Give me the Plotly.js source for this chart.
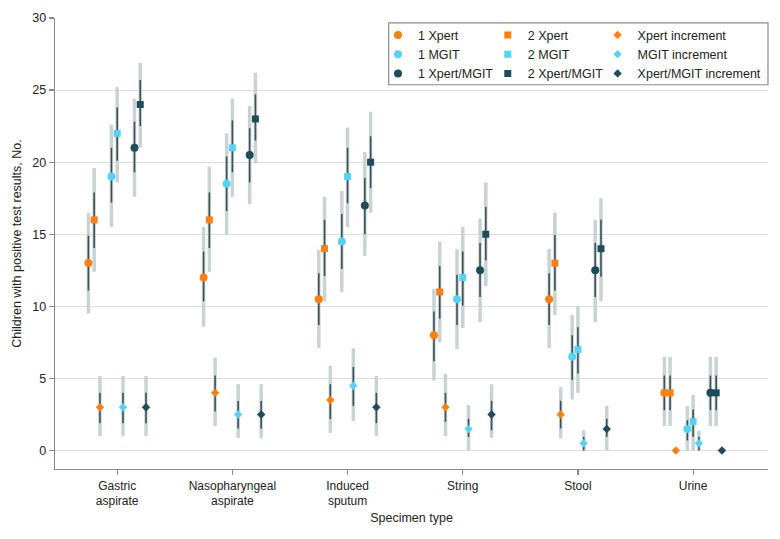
<!DOCTYPE html>
<html>
<head>
<meta charset="utf-8">
<script src="https://cdn.plot.ly/plotly-3.0.1.min.js"></script>
<style>html,body{margin:0;padding:0;background:#fff;}#chart{width:780px;height:539px;}</style>
</head>
<body>
<div id="chart"></div>
<script>
// Categories (x) and tick labels
const categories = ['Gastric<br>aspirate', 'Nasopharyngeal<br>aspirate', 'Induced<br>sputum', 'String', 'Stool', 'Urine'];

// 1 Xpert
const xpert1 = [13, 12, 10.5, 8, 10.5, 4];
const xpert1OuterLo = [9.5, 8.6, 7.1, 4.85, 7.1, 1.7];
const xpert1OuterHi = [16.5, 15.5, 13.9, 11.2, 14.0, 6.5];
const xpert1InnerLo = [11.1, 10.35, 8.7, 6.2, 8.7, 2.8];
const xpert1InnerHi = [14.9, 13.8, 12.3, 9.65, 12.3, 5.2];

// 2 Xpert
const xpert2 = [16, 16, 14, 11, 13, 4];
const xpert2OuterLo = [12.4, 12.4, 10.35, 7.5, 9.4, 1.7];
const xpert2OuterHi = [19.6, 19.7, 17.6, 14.5, 16.5, 6.5];
const xpert2InnerLo = [14.05, 14.05, 12.1, 9.15, 11.1, 2.8];
const xpert2InnerHi = [17.9, 17.9, 16.0, 12.8, 14.95, 5.2];

// Xpert increment
const xpertInc = [3, 4, 3.5, 3, 2.5, 0];
const xpertIncOuterLo = [1.0, 1.7, 1.23, 1.0, 0.84, 0];
const xpertIncOuterHi = [5.17, 6.45, 5.87, 5.3, 4.4, 0];
const xpertIncInnerLo = [1.9, 2.7, 2.18, 2.0, 1.53, 0];
const xpertIncInnerHi = [4.0, 5.2, 4.6, 4.0, 3.45, 0];

// 1 MGIT
const mgit1 = [19, 18.5, 14.5, 10.5, 6.5, 1.5];
const mgit1OuterLo = [15.5, 14.95, 11.0, 7.05, 3.55, 0];
const mgit1OuterHi = [22.6, 22.0, 18.0, 13.95, 9.4, 3.1];
const mgit1InnerLo = [17.2, 16.6, 12.6, 8.7, 4.9, 0.7];
const mgit1InnerHi = [21.0, 20.4, 16.4, 12.2, 8.0, 2.1];

// 2 MGIT
const mgit2 = [22, 21, 19, 12, 7, 2];
const mgit2OuterLo = [18.6, 17.6, 15.5, 8.5, 4.0, 0];
const mgit2OuterHi = [25.2, 24.4, 22.4, 15.5, 10.0, 3.85];
const mgit2InnerLo = [20.1, 19.3, 17.15, 10.05, 5.35, 0.95];
const mgit2InnerHi = [23.8, 22.9, 21.0, 13.8, 8.55, 2.85];

// MGIT increment
const mgitInc = [3, 2.5, 4.5, 1.5, 0.5, 0.5];
const mgitIncOuterLo = [1.0, 0.88, 2.06, 0, 0, 0];
const mgitIncOuterHi = [5.17, 4.6, 7.1, 3.15, 1.41, 1.37];
const mgitIncInnerLo = [1.9, 1.53, 3.1, 0.95, 0, 0];
const mgitIncInnerHi = [4.0, 3.43, 5.8, 2.2, 0.95, 0.95];

// 1 Xpert/MGIT
const xm1 = [21, 20.5, 17, 12.5, 12.5, 4];
const xm1OuterLo = [17.6, 17.1, 13.5, 8.9, 8.9, 1.7];
const xm1OuterHi = [24.4, 23.9, 20.7, 16.1, 16.0, 6.5];
const xm1InnerLo = [19.3, 18.6, 15.0, 10.65, 10.65, 2.8];
const xm1InnerHi = [22.8, 22.35, 18.9, 14.4, 14.4, 5.2];

// 2 Xpert/MGIT
const xm2 = [24, 23, 20, 15, 14, 4];
const xm2OuterLo = [21.0, 19.9, 16.5, 11.4, 10.35, 1.7];
const xm2OuterHi = [26.9, 26.2, 23.5, 18.6, 17.5, 6.5];
const xm2InnerLo = [22.5, 21.5, 18.2, 13.2, 12.05, 2.8];
const xm2InnerHi = [25.7, 24.7, 21.8, 16.9, 16.0, 5.2];

// Xpert/MGIT increment
const xmInc = [3, 2.5, 3, 2.5, 1.5, 0];
const xmIncOuterLo = [1.0, 0.88, 1.0, 0.88, 0, 0];
const xmIncOuterHi = [5.17, 4.6, 5.17, 4.6, 3.1, 0];
const xmIncInnerLo = [1.9, 1.53, 1.9, 1.4, 0.95, 0];
const xmIncInnerHi = [4.0, 3.43, 4.0, 3.45, 2.2, 0];

// ---- styling ----
const ORANGE = '#FF7F0F', CYAN = '#55D3F5', TEAL = '#1E4C5B';
const OUTER = '#C8D3D3', INNER = '#3F5057';
const FONT = '"Liberation Sans", Arial, sans-serif';

const series = [
  {name: '1 Xpert', v: xpert1, oLo: xpert1OuterLo, oHi: xpert1OuterHi, iLo: xpert1InnerLo, iHi: xpert1InnerHi, color: ORANGE, symbol: 'circle', size: 8, off: -0.25, legend: 'legend'},
  {name: '2 Xpert', v: xpert2, oLo: xpert2OuterLo, oHi: xpert2OuterHi, iLo: xpert2InnerLo, iHi: xpert2InnerHi, color: ORANGE, symbol: 'square', size: 7, off: -0.2, legend: 'legend2'},
  {name: 'Xpert increment', v: xpertInc, oLo: xpertIncOuterLo, oHi: xpertIncOuterHi, iLo: xpertIncInnerLo, iHi: xpertIncInnerHi, color: ORANGE, symbol: 'diamond', size: 6.5, off: -0.15, legend: 'legend3'},
  {name: '1 MGIT', v: mgit1, oLo: mgit1OuterLo, oHi: mgit1OuterHi, iLo: mgit1InnerLo, iHi: mgit1InnerHi, color: CYAN, symbol: 'circle', size: 8, off: -0.05, legend: 'legend'},
  {name: '2 MGIT', v: mgit2, oLo: mgit2OuterLo, oHi: mgit2OuterHi, iLo: mgit2InnerLo, iHi: mgit2InnerHi, color: CYAN, symbol: 'square', size: 7, off: 0, legend: 'legend2'},
  {name: 'MGIT increment', v: mgitInc, oLo: mgitIncOuterLo, oHi: mgitIncOuterHi, iLo: mgitIncInnerLo, iHi: mgitIncInnerHi, color: CYAN, symbol: 'diamond', size: 6.5, off: 0.05, legend: 'legend3'},
  {name: '1 Xpert/MGIT', v: xm1, oLo: xm1OuterLo, oHi: xm1OuterHi, iLo: xm1InnerLo, iHi: xm1InnerHi, color: TEAL, symbol: 'circle', size: 8, off: 0.15, legend: 'legend'},
  {name: '2 Xpert/MGIT', v: xm2, oLo: xm2OuterLo, oHi: xm2OuterHi, iLo: xm2InnerLo, iHi: xm2InnerHi, color: TEAL, symbol: 'square', size: 7, off: 0.2, legend: 'legend2'},
  {name: 'Xpert/MGIT increment', v: xmInc, oLo: xmIncOuterLo, oHi: xmIncOuterHi, iLo: xmIncInnerLo, iHi: xmIncInnerHi, color: TEAL, symbol: 'diamond', size: 6.5, off: 0.25, legend: 'legend3'}
];

const traces = [];
// outer (light) bars first
series.forEach(s => {
  traces.push({
    type: 'scatter', mode: 'markers', showlegend: false, hoverinfo: 'skip',
    x: s.v.map((_, i) => i + s.off), y: s.v,
    marker: {opacity: 0, size: 1},
    error_y: {type: 'data', symmetric: false, array: s.v.map((v, i) => s.oHi[i] - v), arrayminus: s.v.map((v, i) => v - s.oLo[i]), color: OUTER, thickness: 3.5, width: 0}
  });
});
// inner (dark) bars + markers
series.forEach(s => {
  traces.push({
    type: 'scatter', mode: 'markers', name: s.name, legend: s.legend,
    x: s.v.map((_, i) => i + s.off), y: s.v,
    marker: {color: s.color, symbol: s.symbol, size: s.size, line: {width: 0}},
    error_y: {type: 'data', symmetric: false, array: s.v.map((v, i) => s.iHi[i] - v), arrayminus: s.v.map((v, i) => v - s.iLo[i]), color: INNER, thickness: 1.6, width: 0}
  });
});

const legendBase = {
  yanchor: 'top', xanchor: 'left', y: 0.995, bgcolor: 'rgba(0,0,0,0)', borderwidth: 0,
  font: {family: FONT, size: 12.5, color: '#222'}, tracegroupgap: 0
};

const layout = {
  width: 780, height: 539,
  margin: {l: 55, r: 12, t: 18, b: 70},
  paper_bgcolor: '#fff', plot_bgcolor: '#fff',
  font: {family: FONT, size: 12, color: '#222'},
  xaxis: {
    range: [-0.54, 5.65], tickvals: categories.map((_, i) => i), ticktext: categories,
    showgrid: false, zeroline: false, showline: true, linecolor: '#8a8a8a', linewidth: 1.3,
    ticks: 'outside', ticklen: 5, tickcolor: '#8a8a8a', tickwidth: 1.2,
    tickfont: {family: FONT, size: 12, color: '#222'},
    title: {text: 'Specimen type', font: {family: FONT, size: 12.5, color: '#222'}, standoff: 6}
  },
  yaxis: {
    range: [-1.28, 30], tickvals: [0, 5, 10, 15, 20, 25, 30],
    showgrid: true, gridcolor: '#dcdcdc', gridwidth: 1, zeroline: false,
    showline: true, linecolor: '#8a8a8a', linewidth: 1.3,
    ticks: 'outside', ticklen: 5, tickcolor: '#8a8a8a', tickwidth: 1.2,
    tickfont: {family: FONT, size: 12.5, color: '#222'},
    title: {text: 'Children with positive test results, No.', font: {family: FONT, size: 12.5, color: '#222'}, standoff: 8}
  },
  showlegend: true,
  legend: Object.assign({}, legendBase, {x: 0.453}),
  legend2: Object.assign({}, legendBase, {x: 0.607}),
  legend3: Object.assign({}, legendBase, {x: 0.761}),
  shapes: [{
    type: 'rect', xref: 'paper', yref: 'paper', x0: 0.468, x1: 1.0, y0: 0.852, y1: 0.989,
    line: {color: '#8a8a8a', width: 1.2}, fillcolor: 'rgba(0,0,0,0)', layer: 'above'
  }]
};

Plotly.newPlot('chart', traces, layout, {staticPlot: true, displayModeBar: false});
</script>
</body>
</html>
